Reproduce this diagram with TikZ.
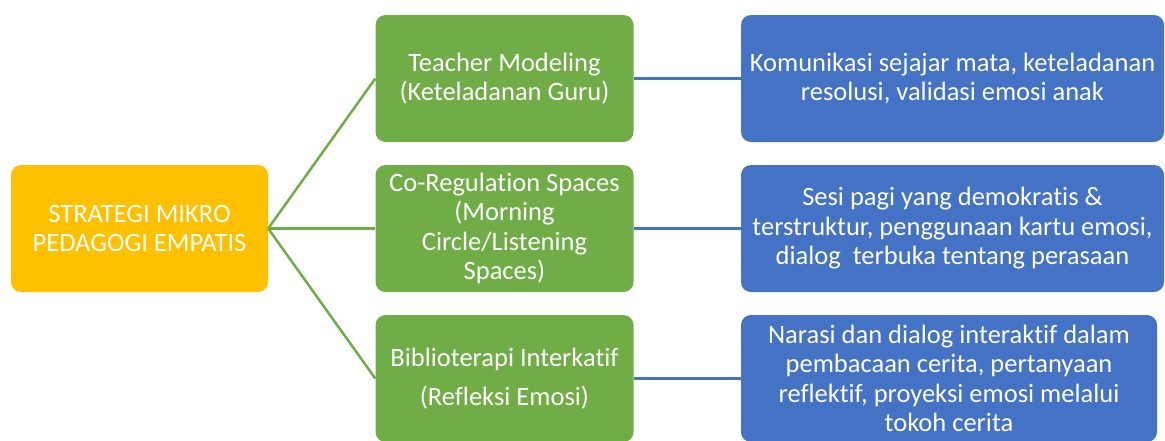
\documentclass[tikz,border=0pt]{standalone}
\usepackage{fontspec}
\setmainfont{Carlito}[Ligatures=NoCommon]
\definecolor{cyel}{HTML}{FFC000}
\definecolor{cgrn}{HTML}{70AD47}
\definecolor{cblu}{HTML}{4472C4}
\begin{document}
\begin{tikzpicture}[x=1pt,y=-1pt,
  box/.style={rectangle, rounded corners=10pt, text=white, align=center,
    inner sep=0pt, font=\fontsize{26.5}{29.5}\selectfont, minimum height=127pt},
  rootbox/.style={box, fill=cyel, minimum width=257pt},
  gbox/.style={box, fill=cgrn, minimum width=258pt},
  bbox/.style={box, fill=cblu},
  gline/.style={draw=cgrn, line width=2.5pt},
  bline/.style={draw=cblu, line width=2.5pt}]
\useasboundingbox (0,0) rectangle (1165,440);
\clip (0,0) rectangle (1165,440);
\node[rootbox] (root) at (139.5,228.5) {STRATEGI MIKRO\\PEDAGOGI EMPATIS};
\node[gbox] (g1) at (504.5,78.5) {Teacher Modeling\\(Keteladanan Guru)};
\node[gbox] (g2) at (504.5,228.5) {Co-Regulation Spaces\\(Morning\\Circle/Listening\\Spaces)};
\node[gbox] (g3) at (504.5,378.5) {Biblioterapi Interkatif\\[10pt](Refleksi Emosi)};
\node[bbox, minimum width=423pt] (b1) at (952.5,78.5) {Komunikasi sejajar mata, keteladanan\\resolusi, validasi emosi anak};
\node[bbox, minimum width=423pt] (b2) at (952.5,228.5) {Sesi pagi yang demokratis \&\\terstruktur, penggunaan kartu emosi,\\dialog\ \ terbuka tentang perasaan};
\node[bbox, minimum width=416pt] (b3) at (949,378.5) {Narasi dan dialog interaktif dalam\\pembacaan cerita, pertanyaan\\reflektif, proyeksi emosi melalui\\tokoh cerita};
\draw[gline] (root.east) -- (g1.west);
\draw[gline] (root.east) -- (g2.west);
\draw[gline] (root.east) -- (g3.west);
\draw[bline] (g1.east) -- (b1.west);
\draw[bline] (g2.east) -- (b2.west);
\draw[bline] (g3.east) -- (b3.west);
\end{tikzpicture}
\end{document}
